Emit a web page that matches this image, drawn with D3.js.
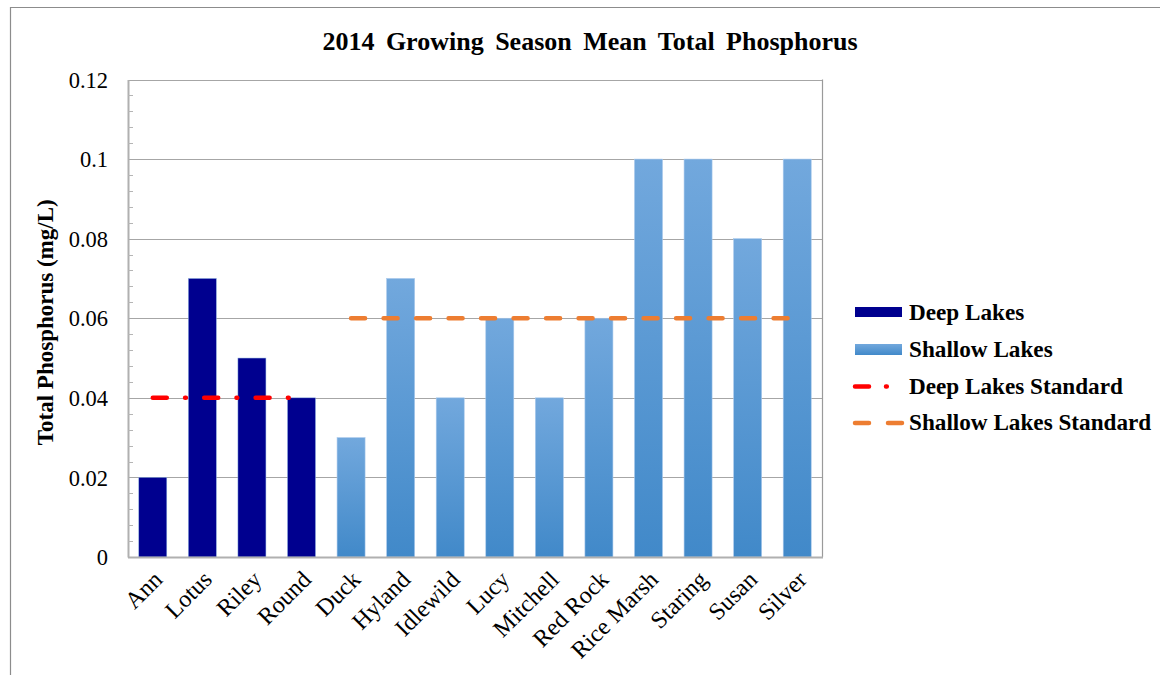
<!DOCTYPE html>
<html>
<head>
<meta charset="utf-8">
<script src="https://cdn.jsdelivr.net/npm/d3@7"></script>
<style>
  html, body { margin: 0; padding: 0; background: #fff; }
  svg { display: block; }
  text { font-family: "Liberation Serif", "Times New Roman", serif; fill: #000; }
</style>
</head>
<body>
<svg id="chart" width="1160" height="675"></svg>
<script>
// Lake names, in plotting order
const deepLakes = ["Ann", "Lotus", "Riley", "Round"];
const shallowLakes = ["Duck", "Hyland", "Idlewild", "Lucy", "Mitchell", "Red Rock",
                      "Rice Marsh", "Staring", "Susan", "Silver"];
const categories = deepLakes.concat(shallowLakes);

// 2014 growing-season mean total phosphorus (mg/L)
const deepValues = [0.02, 0.07, 0.05, 0.04];
const shallowValues = [0.03, 0.07, 0.04, 0.06, 0.04, 0.06, 0.1, 0.1, 0.08, 0.1];

// State eutrophication standards (mg/L)
const deepStandard = [0.04, 0.04, 0.04, 0.04];
const shallowStandard = [0.06, 0.06, 0.06, 0.06, 0.06, 0.06, 0.06, 0.06, 0.06, 0.06];

const yTicks = [0, 0.02, 0.04, 0.06, 0.08, 0.1, 0.12];
const yTickLabels = ["0", "0.02", "0.04", "0.06", "0.08", "0.1", "0.12"];

const seriesNames = ["Deep Lakes", "Shallow Lakes", "Deep Lakes Standard", "Shallow Lakes Standard"];

const svg = d3.select("#chart");
const plot = { left: 128, right: 822, top: 79.5, bottom: 557 };

const x = d3.scaleBand()
  .domain(categories)
  .range([plot.left, plot.right])
  .paddingInner(0.435)
  .paddingOuter(0.2175);

const y = d3.scaleLinear().domain([0, 0.12]).range([plot.bottom, plot.top]);

// Gradients
const defs = svg.append("defs");
const grad = defs.append("linearGradient")
  .attr("id", "shallowFill").attr("x1", 0).attr("y1", 0).attr("x2", 0).attr("y2", 1);
grad.append("stop").attr("offset", "0%").attr("stop-color", "#72a8dd");
grad.append("stop").attr("offset", "100%").attr("stop-color", "#4189c9");

// Page frame
svg.append("line").attr("x1", 10.5).attr("x2", 10.5).attr("y1", 7).attr("y2", 675)
  .attr("stroke", "#8c8c8c").attr("stroke-width", 1.2);
svg.append("line").attr("x1", 10).attr("x2", 1160).attr("y1", 7.5).attr("y2", 7.5)
  .attr("stroke", "#8c8c8c").attr("stroke-width", 1.2);

// Title
svg.append("text")
  .attr("x", 590).attr("y", 50)
  .attr("text-anchor", "middle")
  .attr("font-size", 26).attr("font-weight", "bold")
  .attr("word-spacing", 5)
  .text("2014 Growing Season Mean Total Phosphorus");

// Gridlines at major ticks
svg.append("g").selectAll("line")
  .data(yTicks.filter(d => d > 0))
  .join("line")
  .attr("x1", plot.left).attr("x2", plot.right)
  .attr("y1", d => Math.round(y(d)) + 0.5).attr("y2", d => Math.round(y(d)) + 0.5)
  .attr("stroke", "#a6a6a6").attr("stroke-width", 1);

// Right border of plot area
svg.append("line")
  .attr("x1", plot.right + 0.5).attr("x2", plot.right + 0.5)
  .attr("y1", plot.top).attr("y2", plot.bottom)
  .attr("stroke", "#9a9a9a").attr("stroke-width", 1.2);

// Y axis with inside minor ticks
const yAxis = d3.axisLeft(y)
  .tickValues(yTicks)
  .tickFormat((d, i) => yTickLabels[i])
  .tickSize(0)
  .tickPadding(20);
const yg = svg.append("g").attr("transform", `translate(${plot.left},0)`).call(yAxis);
yg.select(".domain").attr("stroke", "#b0b0b0").attr("stroke-width", 2);
yg.selectAll("text")
  .attr("font-family", "Liberation Serif, Times New Roman, serif")
  .attr("font-size", 22.5).attr("fill", "#000").attr("dy", "0.34em");

const minor = d3.range(0, 0.1201, 0.004).filter(v => Math.abs(v / 0.02 - Math.round(v / 0.02)) > 1e-6);
svg.append("g").selectAll("line")
  .data(minor)
  .join("line")
  .attr("x1", plot.left).attr("x2", plot.left + 5)
  .attr("y1", d => Math.round(y(d)) + 0.5).attr("y2", d => Math.round(y(d)) + 0.5)
  .attr("stroke", "#b5b5b5").attr("stroke-width", 1);

// Y axis title
svg.append("text")
  .attr("transform", `translate(53,${(plot.top + plot.bottom) / 2 + 4}) rotate(-90)`)
  .attr("text-anchor", "middle")
  .attr("font-size", 23).attr("font-weight", "bold")
  .text("Total Phosphorus (mg/L)");

// Bars
const deepData = deepLakes.map((c, i) => ({ c, v: deepValues[i] }));
const shallowData = shallowLakes.map((c, i) => ({ c, v: shallowValues[i] }));

svg.append("g").selectAll("rect")
  .data(deepData)
  .join("rect")
  .attr("x", d => x(d.c)).attr("width", x.bandwidth())
  .attr("y", d => y(d.v)).attr("height", d => y(0) - y(d.v))
  .attr("fill", "#00008f")
  .attr("stroke", "#8fb3e0").attr("stroke-width", 0.5);

svg.append("g").selectAll("rect")
  .data(shallowData)
  .join("rect")
  .attr("x", d => x(d.c)).attr("width", x.bandwidth())
  .attr("y", d => y(d.v)).attr("height", d => y(0) - y(d.v))
  .attr("fill", "url(#shallowFill)")
  .attr("stroke", "#a9c9ec").attr("stroke-width", 0.6);

// X axis line
svg.append("line")
  .attr("x1", plot.left).attr("x2", plot.right + 1)
  .attr("y1", plot.bottom + 0.5).attr("y2", plot.bottom + 0.5)
  .attr("stroke", "#b0b0b0").attr("stroke-width", 2);

// Category labels, rotated
svg.append("g").selectAll("text")
  .data(categories)
  .join("text")
  .attr("transform", d => `translate(${x(d) + x.bandwidth() / 2 + 11},${plot.bottom + 24}) rotate(-45)`)
  .attr("text-anchor", "end")
  .attr("font-size", 24)
  .text(d => d);

// Standard lines
const cx = c => x(c) + x.bandwidth() / 2;
const line = d3.line().x(d => cx(d.c)).y(d => y(d.v));

svg.append("path")
  .datum(deepLakes.map((c, i) => ({ c, v: deepStandard[i] })))
  .attr("d", line)
  .attr("fill", "none")
  .attr("stroke", "#ff0000").attr("stroke-width", 4.5)
  .attr("stroke-linecap", "round")
  .attr("stroke-dasharray", "14 18.3 0.8 18.3");

svg.append("path")
  .datum(shallowLakes.map((c, i) => ({ c, v: shallowStandard[i] })))
  .attr("d", line)
  .attr("fill", "none")
  .attr("stroke", "#ed7d31").attr("stroke-width", 4.5)
  .attr("stroke-linecap", "round")
  .attr("stroke-dasharray", "14 18.5");

// Legend
const legend = svg.append("g");
const rowY = [312, 349.5, 386.5, 423];
const textY = [320, 357, 393.5, 430];

legend.append("rect").attr("x", 855).attr("y", rowY[0] - 5).attr("width", 47).attr("height", 10)
  .attr("fill", "#00008f");
legend.append("rect").attr("x", 855).attr("y", rowY[1] - 5.5).attr("width", 47).attr("height", 11)
  .attr("fill", "url(#shallowFill)");
legend.append("line").attr("x1", 855).attr("x2", 902).attr("y1", rowY[2]).attr("y2", rowY[2])
  .attr("stroke", "#ff0000").attr("stroke-width", 4.5).attr("stroke-linecap", "round")
  .attr("stroke-dasharray", "14 17 0.8 40");
legend.append("line").attr("x1", 855).attr("x2", 902).attr("y1", rowY[3]).attr("y2", rowY[3])
  .attr("stroke", "#ed7d31").attr("stroke-width", 4.5).attr("stroke-linecap", "round")
  .attr("stroke-dasharray", "14 19");

legend.selectAll("text")
  .data(seriesNames)
  .join("text")
  .attr("x", 909).attr("y", (d, i) => textY[i])
  .attr("font-size", 23.2).attr("font-weight", "bold")
  .text(d => d);
</script>
</body>
</html>
